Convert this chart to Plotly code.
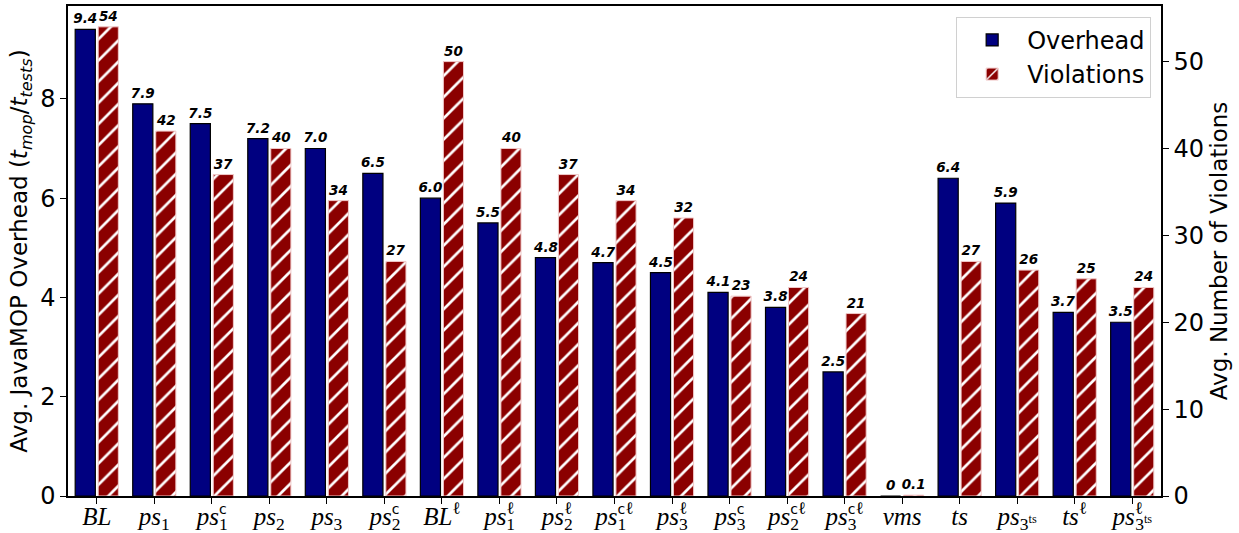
import plotly.graph_objects as go

C = '<span style="font-family:DejaVu Sans;font-style:normal;font-size:14px">c</span>'


def back(s, em):
    # place following text above/below the same spot (stacked sub/sup)
    return '<span style="letter-spacing:-%sem">%s</span>' % (em, s)


categories = [
    "<i>BL</i>",
    "<i>ps</i><sub>1</sub>",
    "<i>ps</i><sub>" + back("1", 0.5) + "</sub><sup>" + C + "</sup>",
    "<i>ps</i><sub>2</sub>",
    "<i>ps</i><sub>3</sub>",
    "<i>ps</i><sub>" + back("2", 0.5) + "</sub><sup>" + C + "</sup>",
    "<i>BL</i><sup>ℓ</sup>",
    "<i>ps</i><sub>" + back("1", 0.5) + "</sub><sup>ℓ</sup>",
    "<i>ps</i><sub>" + back("2", 0.5) + "</sub><sup>ℓ</sup>",
    "<i>ps</i><sub>" + back("1", 0.5) + "</sub><sup>" + C + "ℓ</sup>",
    "<i>ps</i><sub>" + back("3", 0.5) + "</sub><sup>ℓ</sup>",
    "<i>ps</i><sub>" + back("3", 0.5) + "</sub><sup>" + C + "</sup>",
    "<i>ps</i><sub>" + back("2", 0.5) + "</sub><sup>" + C + "ℓ</sup>",
    "<i>ps</i><sub>" + back("3", 0.5) + "</sub><sup>" + C + "ℓ</sup>",
    "<i>vms</i>",
    "<i>ts</i>",
    "<i>ps</i><sub>3<sup>ts</sup></sub>",
    "<i>ts</i><sup>ℓ</sup>",
    "<i>ps</i><sup>" + back("ℓ", 0.45) + "</sup><sub>3<sup>ts</sup></sub>",
]

overhead = [9.4, 7.9, 7.5, 7.2, 7.0, 6.5, 6.0, 5.5, 4.8, 4.7, 4.5, 4.1, 3.8, 2.5, 0, 6.4, 5.9, 3.7, 3.5]
violations = [54, 42, 37, 40, 34, 27, 50, 40, 37, 34, 32, 23, 24, 21, 0.1, 27, 26, 25, 24]
overhead_labels = ["9.4", "7.9", "7.5", "7.2", "7.0", "6.5", "6.0", "5.5", "4.8", "4.7",
                   "4.5", "4.1", "3.8", "2.5", "0", "6.4", "5.9", "3.7", "3.5"]
violation_labels = ["54", "42", "37", "40", "34", "27", "50", "40", "37", "34",
                    "32", "23", "24", "21", "0.1", "27", "26", "25", "24"]

label_font = dict(family="DejaVu Sans", size=13.5, color="black")

fig = go.Figure()
fig.add_trace(go.Bar(
    x=categories, y=overhead, name="Overhead",
    width=0.35, offset=-0.375,
    marker=dict(color="#000080", line=dict(color="black", width=1.2)),
    text=overhead_labels, texttemplate="<b><i>%{text}</i></b>",
    textposition="outside", textfont=label_font, constraintext="none",
    cliponaxis=False, yaxis="y",
))
fig.add_trace(go.Bar(
    x=categories, y=violations, name="Violations",
    width=0.35, offset=0.025,
    marker=dict(color="#8B0000", line=dict(color="#f0c8c8", width=1),
                pattern=dict(shape="/", fgcolor="white", bgcolor="#8B0000",
                             fgopacity=1, size=15, solidity=0.18)),
    text=violation_labels, texttemplate="<b><i>%{text}</i></b>",
    textposition="outside", textfont=label_font, constraintext="none",
    cliponaxis=False, yaxis="y2",
))

axis_common = dict(showline=True, linecolor="black", linewidth=1.5, ticks="outside",
                   ticklen=6, tickwidth=1.3, tickcolor="black", showgrid=False,
                   zeroline=False, automargin=False)

fig.update_layout(
    width=1239, height=533,
    margin=dict(l=68, r=78, t=6, b=37),
    plot_bgcolor="white", paper_bgcolor="white",
    font=dict(family="DejaVu Sans", size=24, color="black"),
    barmode="overlay",
    showlegend=True,
    legend=dict(x=0.991, y=0.978, xanchor="right", yanchor="top",
                bordercolor="#d0d0d0", borderwidth=1, bgcolor="rgba(255,255,255,0.8)",
                font=dict(size=24), itemwidth=60),
    xaxis=dict(**axis_common, mirror=True, range=[-0.5, 18.5],
               ticklabelstandoff=-9,
               tickfont=dict(family="Liberation Serif", size=25)),
    yaxis=dict(**axis_common, range=[0, 9.87], dtick=2,
               tickfont=dict(size=24),
               title=dict(text="Avg. JavaMOP Overhead (<i>t<sub>mop</sub></i>/<i>t<sub>tests</sub></i>)",
                          font=dict(size=23), standoff=6)),
    yaxis2=dict(**axis_common, overlaying="y", side="right", range=[0, 56.4], dtick=10,
                tickfont=dict(size=24),
                title=dict(text="Avg. Number of Violations", font=dict(size=23), standoff=8)),
)

fig.write_html("out.html", config={"displayModeBar": False},
               post_script="document.body.style.margin='0';document.body.style.overflow='hidden';")
